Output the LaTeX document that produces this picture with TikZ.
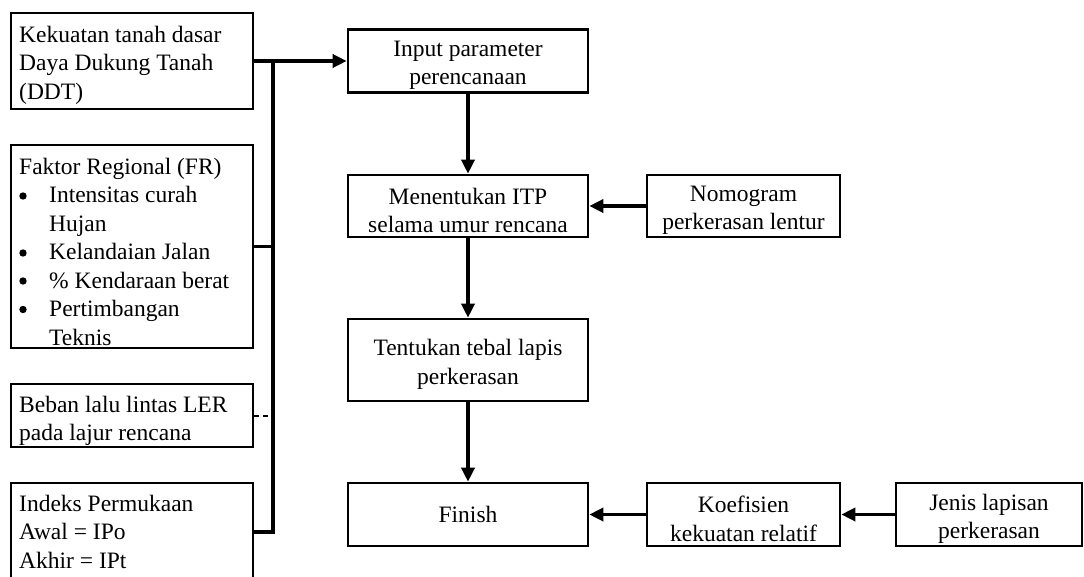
\documentclass[tikz,border=0pt]{standalone}
\usepackage{fontspec}
\setmainfont{Liberation Serif}
\usetikzlibrary{arrows.meta}
\begin{document}
\begin{tikzpicture}[x=1pt,y=-1pt,
  box/.style={draw, line width=2.6pt, inner sep=0pt},
  ctext/.style={inner sep=0pt, align=center, yshift=-4.5pt,
    font=\fontsize{23.5}{28.5}\selectfont},
  txt/.style={inner sep=0pt, anchor=base west, font=\fontsize{23.5}{28.5}\selectfont},
  conn/.style={line width=3.4pt, line join=miter},
  arr/.style={conn, -{Triangle[length=14pt,width=13pt]}},
  dashconn/.style={line width=2pt, dash pattern=on 5pt off 4pt},
]
\clip (0,0) rectangle (1084,576);
\fill[white] (0,0) rectangle (1084,576);

% left column
\node[box, minimum width=242pt, minimum height=96pt] (k) at (132,61) {};
\node[txt] (kt) at (19,42) {\parbox[t]{240pt}{Kekuatan tanah dasar\\Daya Dukung Tanah\\(DDT)}};

\node[box, minimum width=242pt, minimum height=203pt] (fr) at (132,246.5) {};
\node[txt] (frt) at (19,174) {\parbox[t]{240pt}{Faktor Regional (FR)\\
\hspace*{30pt}Intensitas curah\\
\hspace*{30pt}Hujan\\
\hspace*{30pt}Kelandaian Jalan\\
\hspace*{30pt}\% Kendaraan berat\\
\hspace*{30pt}Pertimbangan\\
\hspace*{30pt}Teknis}};
\foreach \yy in {196,253,281,309.5}
  \fill (23,\yy) circle[radius=3.7pt];

\node[box, minimum width=242pt, minimum height=63pt] (be) at (132,415.5) {};
\node[txt] (bet) at (19,412) {\parbox[t]{240pt}{Beban lalu lintas LER\\pada lajur rencana}};

\node[box, minimum width=242pt, minimum height=98pt] (ip) at (132,532) {};
\node[txt] (ipt) at (19,511) {\parbox[t]{240pt}{Indeks Permukaan\\Awal = IPo\\Akhir = IPt}};

% centre column
\node[box, minimum width=240pt, minimum height=63pt] (in) at (468,61) {};
\node[ctext] (int) at (in.center) {Input parameter\\perencanaan};
\node[box, minimum width=240pt, minimum height=62pt] (me) at (468,206) {};
\node[ctext] (met) at (me.center) {Menentukan ITP\\selama umur rencana};
\node[box, minimum width=240pt, minimum height=82pt] (te) at (468,360) {};
\node[ctext] (tet) at (te.center) {Tentukan tebal lapis\\perkerasan};
\node[box, minimum width=240pt, minimum height=63pt] (fi) at (468,514.5) {};
\node[ctext, yshift=4.5pt] (fit) at (fi.center) {Finish};

% right
\node[box, minimum width=193pt, minimum height=62pt] (no) at (743.5,206) {};
\node[ctext] (not) at (no.center) {Nomogram\\perkerasan lentur};
\node[box, minimum width=193pt, minimum height=63pt] (ko) at (743.5,514.5) {};
\node[ctext] (kot) at (ko.center) {Koefisien\\kekuatan relatif};
\node[box, minimum width=186pt, minimum height=63pt] (je) at (989,514.5) {};
\node[ctext] (jet) at (je.center) {Jenis lapisan\\perkerasan};

% bus
\coordinate (bt) at (273,61);
\coordinate (bb) at (273,532);
\draw[conn] (ip.east) -- (bb) -- (bt);
\draw[conn] (fr.east) -- (fr.east -| bt);
\draw[dashconn] (be.east) -- (be.east -| bt);
\draw[arr] (k.east) -- (in.west);

% flow
\draw[arr] (in.south) -- (me.north);
\draw[arr] (me.south) -- (te.north);
\draw[arr] (te.south) -- (fi.north);
\draw[arr] (no.west) -- (me.east);
\draw[arr] (ko.west) -- (fi.east);
\draw[arr] (je.west) -- (ko.east);
\end{tikzpicture}
\end{document}
